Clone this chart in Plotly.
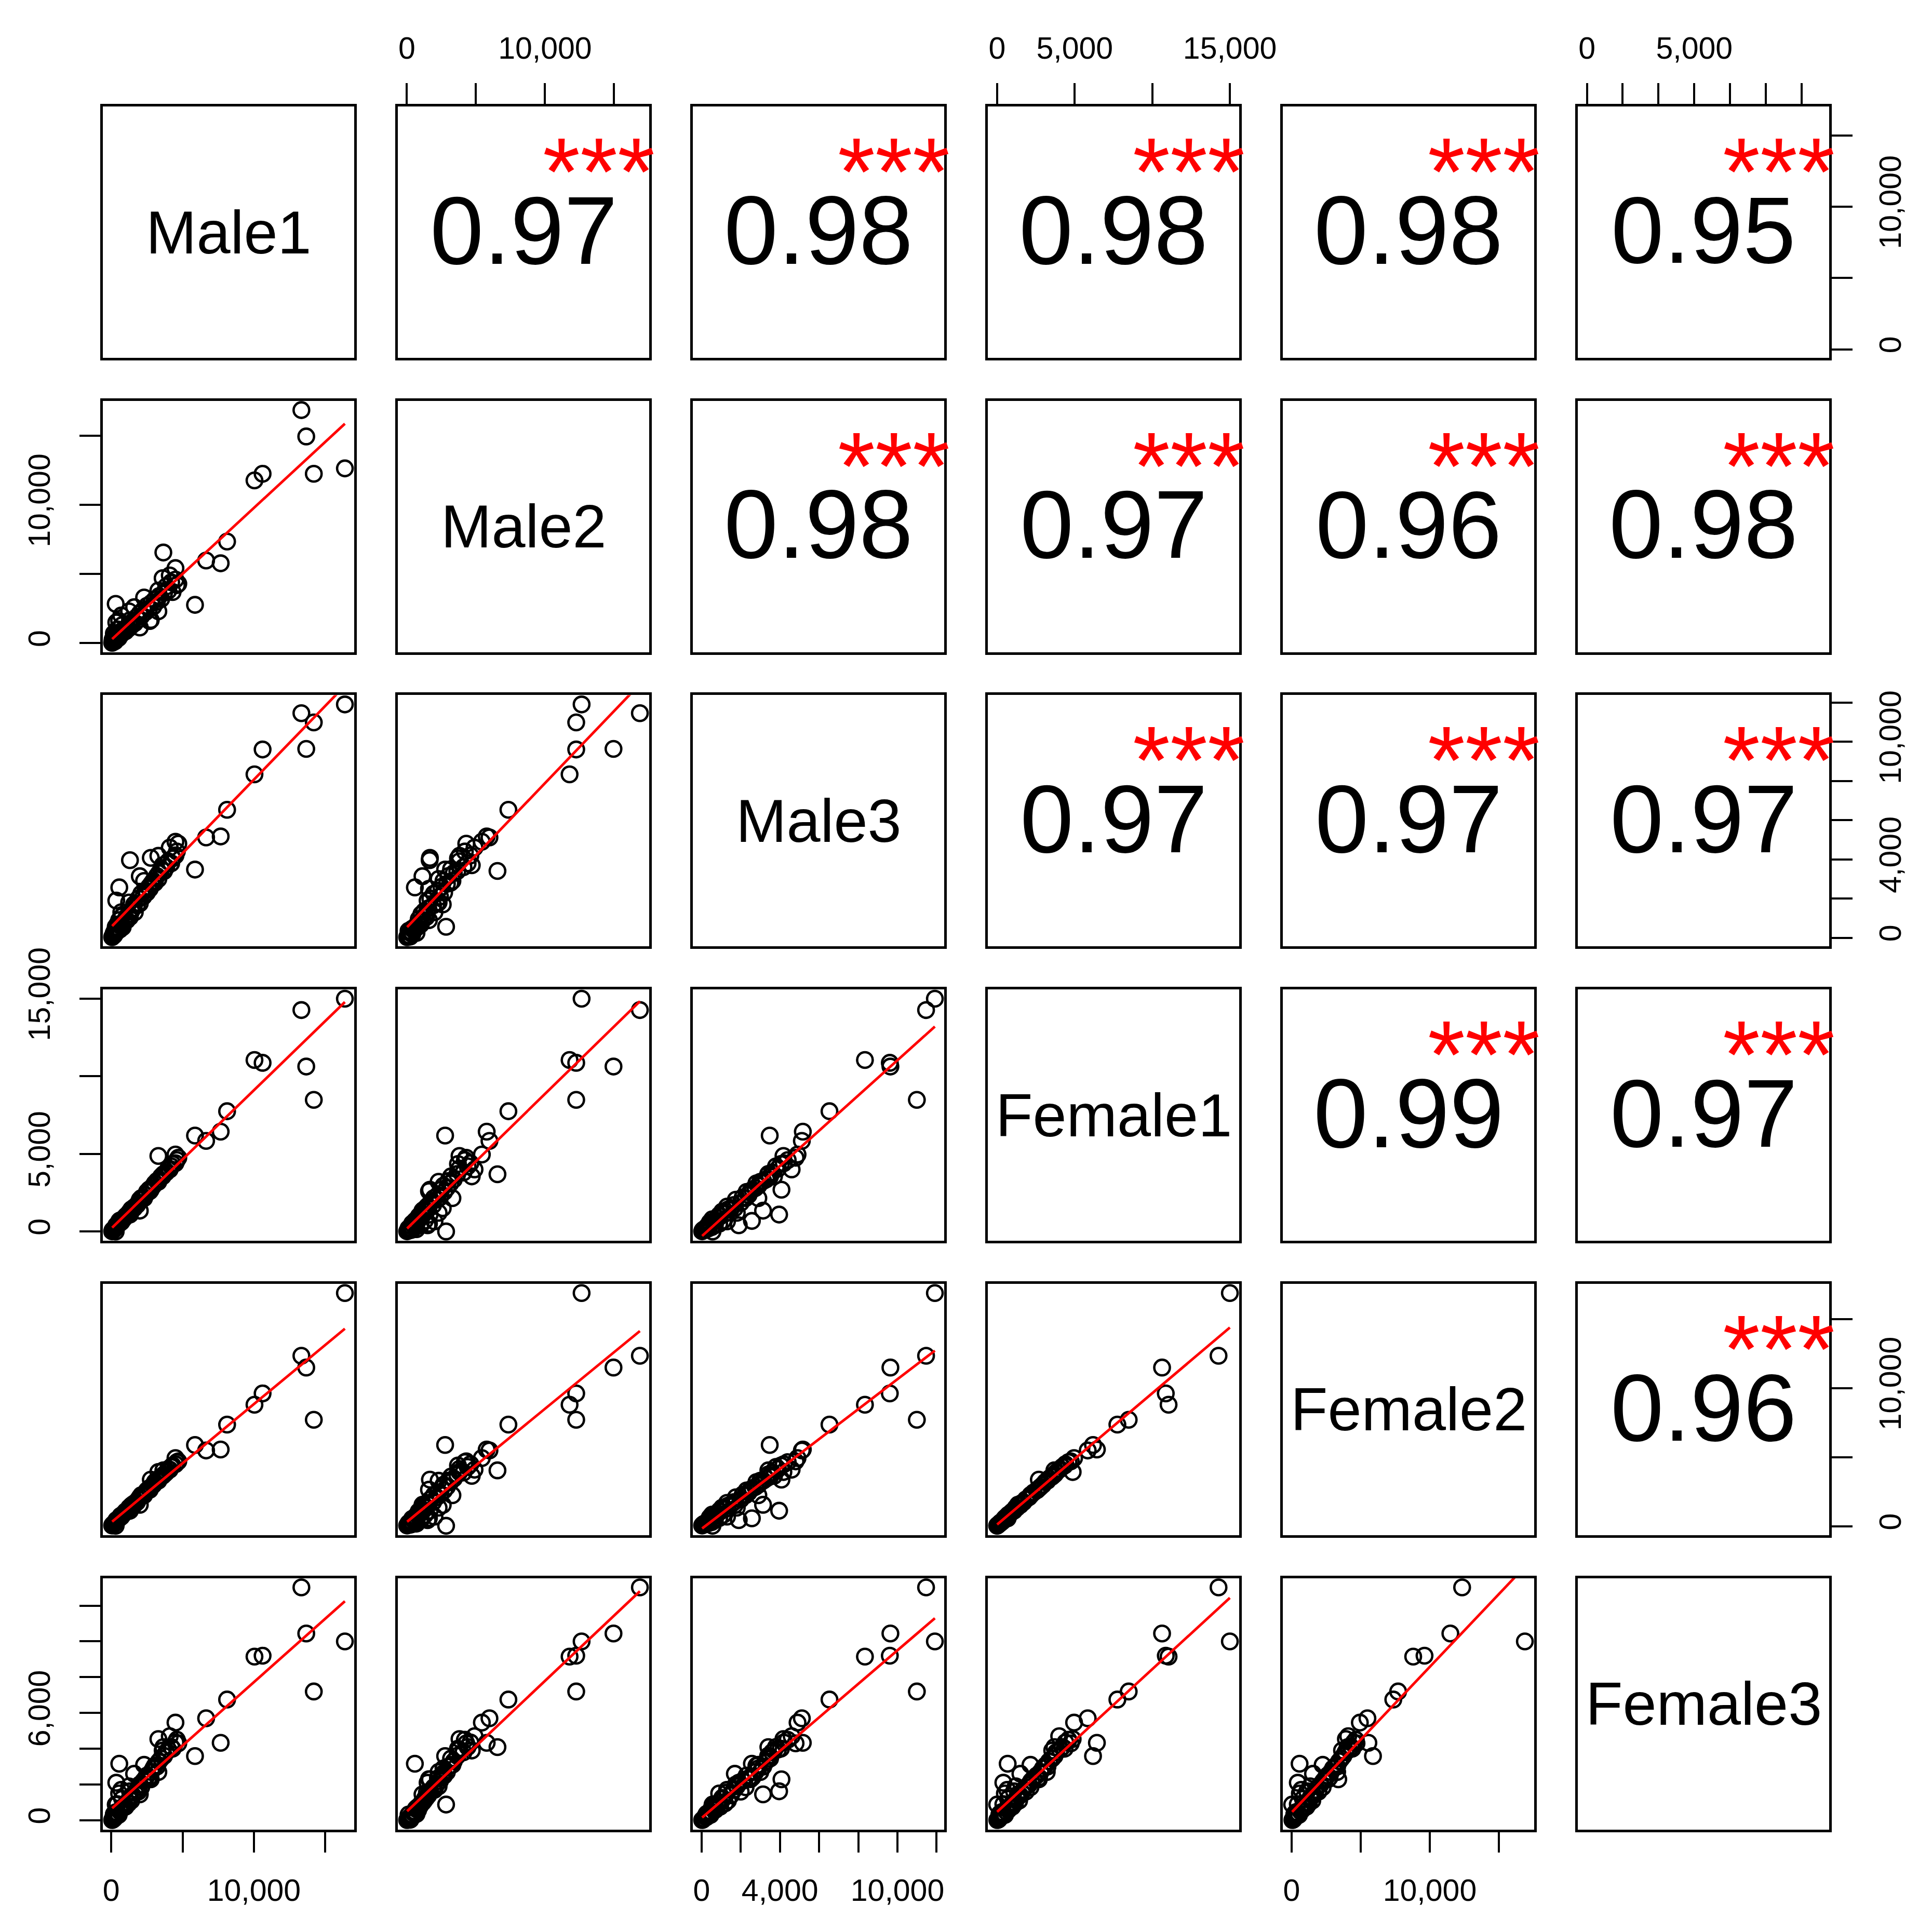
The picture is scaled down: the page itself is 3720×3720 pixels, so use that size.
import numpy as np
import plotly.graph_objects as go

# ---------------- data ----------------
names = ["Male1", "Male2", "Male3", "Female1", "Female2", "Female3"]

male1 = [16380, 13330, 10040, 10610, 13670, 14200, 8120, 5870, 7670, 6650,
         4500, 1310, 3650, 310, 2770, 2000, 560, 3300,
         60, 120, 200, 90, 300, 150, 380, 250, 450, 520, 330, 600, 700, 180, 650,
         800, 900, 420, 1000, 1100, 760, 1200, 1300, 1400, 550, 1500, 1650, 1800,
         1250, 1900, 2000, 2100, 2250, 2400, 2500, 2650, 2800, 2950, 3050, 3200,
         3350, 3500, 3700, 3850, 4000, 4200, 4300, 4500, 4600, 3600, 700, 350,
         2700, 1600, 3300, 4100, 2300, 4700]
male2 = [12650, 16870, 11780, 12260, 14960, 12260, 7350, 2770, 5780, 5980,
         5430, 1650, 6560, 2840, 1670, 1130, 580, 3810,
         20, 90, 150, 250, 210, 400, 330, 120, 500, 380, 600, 560, 640, 700, 820,
         750, 950, 1000, 860, 1150, 1300, 1050, 1400, 1250, 1600, 1550, 1450, 1900,
         2300, 1700, 2150, 1950, 2400, 2250, 2700, 2500, 2900, 2650, 3150, 3000,
         3400, 3200, 3650, 4100, 3800, 4400, 3700, 4600, 4200, 4700, 2000, 1500,
         1600, 2600, 2300, 4900, 3300, 4300]
male3 = [11910, 11460, 8340, 9610, 9640, 10990, 6530, 3480, 5170, 5120,
         4900, 3960, 3410, 560, 4080, 3140, 2570, 4180,
         30, 80, 120, 60, 260, 180, 300, 350, 380, 460, 520, 420, 600, 250, 700,
         540, 820, 680, 950, 900, 1100, 1200, 1050, 1350, 900, 1500, 1300, 1650,
         1800, 2000, 1750, 2250, 2100, 2400, 2300, 2600, 2750, 2900, 2800, 3150,
         3300, 3500, 3400, 3600, 3900, 3800, 4050, 4200, 4400, 3700, 1300, 1900,
         2500, 1700, 3000, 4600, 2900, 4800]
female1 = [15000, 14270, 11050, 10870, 10630, 8480, 7750, 6180, 6430, 5840,
           4960, 1090, 3690, 0, 2690, 1340, 680, 4870,
           10, 60, 140, 80, 230, 120, 350, 200, 420, 510, 280, 580, 610, 150, 720,
           780, 850, 400, 980, 1050, 700, 1150, 1280, 1420, 500, 1480, 1600, 1700,
           1200, 1850, 2050, 2150, 2200, 2350, 2550, 2700, 2800, 2950, 3100, 3250,
           3350, 3550, 3700, 3800, 4050, 4200, 4350, 4400, 4600, 3550, 650, 400,
           2600, 1500, 3200, 4000, 2150, 4750]
female2 = [16880, 12340, 8800, 9620, 11490, 7710, 7360, 5890, 5560, 5490,
           4940, 1130, 4050, 40, 3380, 1560, 580, 3930,
           60, 110, 180, 120, 290, 170, 360, 230, 480, 540, 310, 650, 700, 200, 760,
           850, 940, 450, 1080, 1120, 820, 1250, 1350, 1500, 600, 1580, 1700, 1750,
           1350, 1950, 2100, 2250, 2300, 2450, 2600, 2750, 2850, 3000, 3200, 3300,
           3450, 3600, 3750, 3900, 4150, 4300, 4400, 4500, 4650, 3650, 700, 450,
           2650, 1550, 3300, 4100, 2250, 4700]
female3 = [10000, 13020, 9150, 9200, 10440, 7200, 6750, 3590, 4330, 5700,
           5460, 1620, 4090, 880, 2290, 1450, 3160, 4540,
           10, 40, 90, 30, 180, 200, 260, 320, 400, 300, 450, 500, 640, 350, 580,
           720, 800, 900, 760, 1000, 1200, 950, 1250, 1100, 1500, 1400, 1550, 1700,
           1900, 1600, 2000, 1850, 2200, 2350, 2500, 2400, 2700, 2900, 3050, 3000,
           3300, 3450, 3600, 3800, 3950, 4100, 4000, 4350, 4500, 3900, 1700, 2100,
           2300, 2600, 2700, 4700, 3100, 4300]

# correlation coefficients printed in the upper panels
cor_pairs = [(0, 1), (0, 2), (0, 3), (0, 4), (0, 5),
             (1, 2), (1, 3), (1, 4), (1, 5),
             (2, 3), (2, 4), (2, 5),
             (3, 4), (3, 5),
             (4, 5)]
cor_values = [0.97, 0.98, 0.98, 0.98, 0.95,
              0.98, 0.97, 0.96, 0.98,
              0.97, 0.97, 0.97,
              0.99, 0.97,
              0.96]
cor_stars = ["***"] * 15

# tick values / labels per variable
ticks_5k = [0, 5000, 10000, 15000]
ticks_2k = [0, 2000, 4000, 6000, 8000, 10000, 12000]
tick_vals = [ticks_5k, ticks_5k, ticks_2k, ticks_5k, ticks_5k, ticks_2k]
tick_text = [["0", "", "10,000", ""],
             ["0", "", "10,000", ""],
             ["0", "", "4,000", "", "", "10,000", ""],
             ["0", "5,000", "", "15,000"],
             ["0", "", "10,000", ""],
             ["0", "", "", "6,000", "", "", ""]]
tick_text_top_female3 = ["0", "", "", "5,000", "", "", ""]

data = [male1, male2, male3, female1, female2, female3]

# ---------------- layout geometry ----------------
W = H = 3720
col_left = [190 + 568 * j for j in range(6)]
row_top = [197 + 566.7 * i for i in range(6)]
PW, PH = 484, 484
FONT = "Liberation Sans, Arial, Helvetica, sans-serif"


def rng(v):
    mn, mx = min(v), max(v)
    d = mx - mn
    return [mn - 0.04 * d, mx + 0.04 * d]


ranges = [rng(v) for v in data]

fig = go.Figure()
layout = {}
annotations = []

tickfont = dict(family=FONT, size=59, color="black")

for i in range(6):
    for j in range(6):
        k = i * 6 + j + 1
        s = "" if k == 1 else str(k)
        xa = dict(domain=[col_left[j] / W, (col_left[j] + PW) / W], anchor="y" + s,
                  range=ranges[j], showline=True, mirror=True, linecolor="black",
                  linewidth=4.5, showgrid=False, zeroline=False, ticks="",
                  showticklabels=False, fixedrange=True, automargin=False)
        ya = dict(domain=[1 - (row_top[i] + PH) / H, 1 - row_top[i] / H], anchor="x" + s,
                  range=ranges[i], showline=True, mirror=True, linecolor="black",
                  linewidth=4.5, showgrid=False, zeroline=False, ticks="",
                  showticklabels=False, fixedrange=True, automargin=False)
        tick_common = dict(ticks="outside", ticklen=40, tickwidth=3.5, tickcolor="black",
                           showticklabels=True, tickfont=tickfont, tickmode="array")
        if i == 0 and j in (1, 3, 5):
            xa.update(tick_common, side="top", tickvals=tick_vals[j],
                      ticktext=tick_text_top_female3 if j == 5 else tick_text[j],
                      ticklabelstandoff=24, tickangle=0)
        if i == 5 and j in (0, 2, 4):
            xa.update(tick_common, side="bottom", tickvals=tick_vals[j],
                      ticktext=tick_text[j], ticklabelstandoff=22, tickangle=0)
        if j == 0 and i in (1, 3, 5):
            ya.update(tick_common, side="left", tickvals=tick_vals[i],
                      ticktext=tick_text[i], ticklabelstandoff=34, tickangle=-90)
        if j == 5 and i in (0, 2, 4):
            ya.update(tick_common, side="right", tickvals=tick_vals[i],
                      ticktext=tick_text[i], ticklabelstandoff=22, tickangle=-90)
        layout["xaxis" + s] = xa
        layout["yaxis" + s] = ya

        if i > j:
            x = data[j]
            y = data[i]
            fig.add_trace(go.Scatter(
                x=x, y=y, xaxis="x" + s, yaxis="y" + s, mode="markers",
                marker=dict(symbol="circle-open", size=30, color="black",
                            line=dict(width=4.6, color="black")),
                showlegend=False, hoverinfo="skip"))
            b1, b0 = np.polyfit(np.array(x, float), np.array(y, float), 1)
            xl = [min(x), max(x)]
            yl = [b0 + b1 * xv for xv in xl]
            fig.add_trace(go.Scatter(
                x=xl, y=yl, xaxis="x" + s, yaxis="y" + s, mode="lines",
                line=dict(color="#ff0000", width=5),
                showlegend=False, hoverinfo="skip"))
        else:
            # empty panel (diagonal / upper): invisible trace so the subplot is drawn
            fig.add_trace(go.Scatter(
                x=[sum(ranges[j]) / 2], y=[sum(ranges[i]) / 2], xaxis="x" + s,
                yaxis="y" + s, mode="markers", marker=dict(size=1, opacity=0),
                showlegend=False, hoverinfo="skip"))
            if i == j:
                annotations.append(dict(text=names[i], xref="x" + s + " domain",
                                        yref="y" + s + " domain", x=0.5, y=0.5,
                                        xanchor="center", yanchor="middle", showarrow=False,
                                        font=dict(family=FONT, size=117, color="black")))

for (i, j), r, st in zip(cor_pairs, cor_values, cor_stars):
    k = i * 6 + j + 1
    s = "" if k == 1 else str(k)
    annotations.append(dict(text=f"{r:.2f}", xref="x" + s + " domain",
                            yref="y" + s + " domain", x=0.5, y=0.5,
                            xanchor="center", yanchor="middle", showarrow=False,
                            yshift=4,
                            font=dict(family=FONT, size=190 * (r + 0.3) / 1.3, color="black")))
    annotations.append(dict(text=st, xref="x" + s + " domain",
                            yref="y" + s + " domain", x=0.8, y=0.8,
                            xanchor="center", yanchor="middle", showarrow=False,
                            yshift=-29,
                            font=dict(family=FONT, size=185, color="#ff0000")))

fig.update_layout(**layout)
fig.update_layout(width=W, height=H, margin=dict(l=0, r=0, t=0, b=0, pad=0, autoexpand=False),
                  paper_bgcolor="white", plot_bgcolor="white",
                  showlegend=False, annotations=annotations)

fig.write_html("out.html")
